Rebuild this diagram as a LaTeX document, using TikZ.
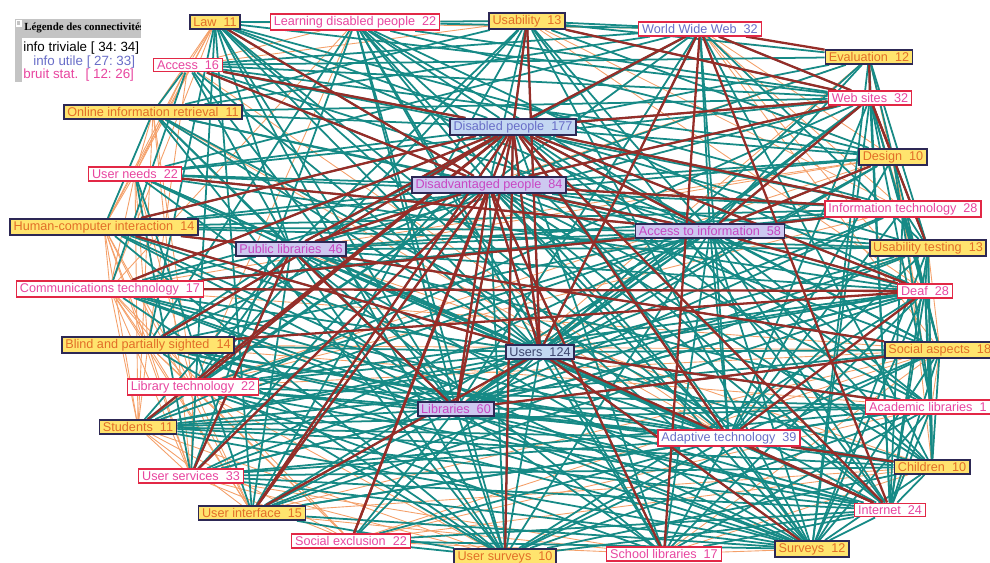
\documentclass[tikz,border=0pt]{standalone}
\usepackage{fontspec}
\setmainfont{Liberation Sans}
\newfontfamily\legfont{Liberation Serif}
\usetikzlibrary{backgrounds}
\tikzset{term/.style={draw,inner xsep=2pt,inner ysep=1.3pt,font=\fontsize{7.2}{8}\selectfont}}
\definecolor{eteal}{RGB}{22,138,134}
\definecolor{ered}{RGB}{150,45,40}
\definecolor{eorange}{RGB}{244,160,105}
\definecolor{kyellow}{RGB}{255,228,110}
\definecolor{knavy}{RGB}{45,40,85}
\definecolor{korange}{RGB}{226,110,40}
\definecolor{kred}{RGB}{226,40,70}
\definecolor{kpink}{RGB}{232,70,160}
\definecolor{kblue}{RGB}{105,110,200}
\definecolor{kpale}{RGB}{195,215,242}
\definecolor{klav}{RGB}{205,200,240}
\definecolor{kpurple}{RGB}{200,70,195}
\definecolor{kslate}{RGB}{60,70,110}
\definecolor{lgray}{RGB}{196,196,196}

\begin{document}
\begin{tikzpicture}[x=0.02cm, y=-0.02cm,
    yterm/.style={term, fill=kyellow, draw=knavy, line width=1pt, text=korange},
    pterm/.style={term, fill=white, draw=kred, line width=0.8pt, text=kpink},
    bterm/.style={pterm, text=kblue},
    hterm/.style={term, fill=kpale, draw=knavy, line width=1pt, text=kblue},
    lterm/.style={term, fill=klav, draw=knavy, line width=1pt, text=kpurple},
    tedge/.style={eteal, line width=1pt},
    redge/.style={ered, line width=1.3pt},
    oedge/.style={eorange, line width=0.5pt},
]
\useasboundingbox (0,0) rectangle (990,562);
\clip (0,0) rectangle (990,562);

% terms
\node[yterm] (law) at (215,22) {Law~~11};
\node[pterm] (ldp) at (355,22) {Learning disabled people~~22};
\node[yterm] (usab) at (527,21) {Usability~~13};
\node[bterm] (www) at (700,29) {World Wide Web~~32};
\node[yterm] (eval) at (869,57) {Evaluation~~12};
\node[pterm] (acc) at (188,65) {Access~~16};
\node[pterm] (web) at (870,98) {Web sites~~32};
\node[yterm] (oir) at (153,112) {Online information retrieval~~11};
\node[hterm] (dis) at (513,127) {Disabled people~~177};
\node[yterm] (design) at (893,157) {Design~~10};
\node[pterm] (uneeds) at (135,174) {User needs~~22};
\node[lterm] (disadv) at (489,185) {Disadvantaged people~~84};
\node[pterm] (it) at (903,209) {Information technology~~28};
\node[yterm] (hci) at (104,227) {Human-computer interaction~~14};
\node[lterm] (a2i) at (710,231) {Access to information~~58};
\node[lterm] (publib) at (291,249) {Public libraries~~46};
\node[yterm] (utest) at (928,248) {Usability testing~~13};
\node[pterm] (comm) at (110,289) {Communications technology~~17};
\node[pterm] (deaf) at (925,291) {Deaf~~28};
\node[yterm] (blind) at (148,345) {Blind and partially sighted~~14};
\node[hterm, text=kslate] (users) at (540,352) {Users~~124};
\node[yterm, anchor=west] (social) at (884,350) {Social aspects~~18};
\node[pterm] (libtech) at (193,387) {Library technology~~22};
\node[lterm] (libs) at (456,409) {Libraries~~60};
\node[pterm, anchor=west] (acad) at (865,407) {Academic libraries~~1\phantom{5}};
\node[yterm] (stud) at (138,427) {Students~~11};
\node[bterm] (adapt) at (729,438) {Adaptive technology~~39};
\node[yterm] (child) at (932,467) {Children~~10};
\node[pterm] (userv) at (191,476) {User services~~33};
\node[pterm] (inet) at (890,510) {Internet~~24};
\node[yterm] (uif) at (252,513) {User interface~~15};
\node[pterm] (sexcl) at (351,541) {Social exclusion~~22};
\node[yterm] (usurv) at (505,557) {User surveys~~10};
\node[pterm] (school) at (664,554) {School libraries~~17};
\node[yterm] (surv) at (812,549) {Surveys~~12};

\begin{pgfonlayer}{background}
% bruit stat.
\foreach \a/\bs in {
    uneeds/{hci,comm,blind,libtech,stud,userv,oir,acc,law},
    hci/{comm,blind,libtech,stud,userv,uif,oir,design,it,utest},
    comm/{blind,libtech,stud,userv,uif,sexcl,social,it,design},
    blind/{libtech,stud,userv,uif,sexcl,deaf,acad,social},
    libtech/{stud,userv,uif,sexcl,usurv,deaf,it,social,design},
    stud/{userv,uif,sexcl,usurv,social,acad,deaf},
    userv/{sexcl,usurv,school},
    uif/{school,surv,social,acad,deaf,child,utest},
    sexcl/{school,inet,child,acad,social},
    usurv/{inet,child,acad},
    school/{surv,inet,child,acad,social},
    surv/{child,acad,social,deaf},
    inet/{child,acad,social,deaf,utest},
    child/{acad,social,deaf,utest,it},
    acad/{social,deaf,utest,it,design},
    social/{deaf,utest,it,design,web},
    deaf/{utest,it,design,web,eval},
    utest/{it,design,web,eval},
    it/{design,web,eval,www},
    design/{web,eval,www,usab},
    web/{eval,usab,ldp},
    eval/{www,usab},
    law/{acc,ldp,oir,usab,www,hci,comm},
    acc/{oir,ldp,usab,blind,hci},
    ldp/{comm,libtech},
    usab/{it,deaf},
    www/{deaf,social},
    oir/{libtech,stud,userv},
    disadv/{eval,www,oir,userv,surv,inet,child,acad},
    users/{law,oir,design,eval,acc,uneeds,comm,blind,ldp},
    libs/{hci,comm,it,eval,web,design,utest,deaf,www},
    publib/{eval,design,it,web,www,child},
    a2i/{law,ldp,oir,hci,uneeds,stud},
    adapt/{hci,uneeds,law,acc,oir,comm,blind,libtech,stud,userv}}
  {\foreach \b in \bs {\draw[oedge] (\a) -- (\b);}}
% info utile
\foreach \a/\bs in {
    law/{dis,disadv,users,a2i,libs,publib,adapt,web,it,uif,surv,ldp,blind,userv,usurv},
    ldp/{dis,disadv,users,a2i,libs,adapt,web,www,inet,design,blind,school,usurv,userv,deaf},
    usab/{dis,disadv,a2i,users,web,eval,www,publib,libtech,inet,surv,ldp,uif,design,oir},
    www/{dis,disadv,users,a2i,web,libs,publib,acc,utest,adapt,uneeds,oir,child},
    eval/{dis,disadv,users,web,a2i,utest,design,inet,surv},
    acc/{dis,disadv,users,a2i,libs,publib,it,design,web,eval,oir,comm},
    web/{dis,disadv,users,a2i,publib,libs,design,utest,deaf,social,acad,adapt,inet,surv,stud,uneeds},
    oir/{dis,disadv,users,a2i,libs,web,publib,hci,inet,usurv},
    dis/{users,a2i,publib,libs,adapt,design,it,utest,deaf,social,acad,child,inet,surv,school,usurv,uif,userv,stud,libtech,blind,comm,hci,uneeds},
    design/{users,a2i,libs,utest,deaf,adapt,acad,hci},
    uneeds/{disadv,users,a2i,publib,libs,adapt,it,deaf,userv,uif},
    disadv/{users,a2i,publib,adapt,it,utest,deaf,social,acad,child,inet,surv,school,usurv,uif,stud,libtech,blind,comm,hci,design},
    it/{users,a2i,publib,libs,adapt,utest,deaf,social,inet,comm,hci},
    hci/{users,a2i,publib,libs,adapt,utest,usurv,surv},
    a2i/{users,publib,libs,adapt,utest,deaf,social,acad,child,inet,surv,school,usurv,uif,userv,stud,libtech,blind,comm},
    publib/{users,libs,adapt,utest,deaf,social,acad,inet,surv,school,usurv,uif,userv,stud,libtech,blind,comm},
    utest/{users,libs,adapt,deaf,acad,child,inet,surv,uif},
    comm/{users,libs,adapt,inet,surv,usurv},
    deaf/{users,libs,social,acad,child,inet,surv,school,usurv,uif,userv,stud,libtech},
    blind/{users,libs,adapt,inet,surv,usurv,child},
    users/{libs,adapt,social,acad,child,inet,surv,school,usurv,uif,userv,stud,libtech,sexcl},
    social/{libs,adapt,child,inet,surv,usurv,stud},
    libtech/{libs,adapt,acad,inet,surv,school},
    libs/{adapt,acad,child,inet,surv,school,usurv,uif,userv,stud,sexcl},
    acad/{adapt,child,inet,surv,school,usurv,uif,userv,stud},
    stud/{adapt,child,inet,surv},
    adapt/{child,inet,surv,school,usurv,uif,userv,sexcl},
    child/{inet,surv,usurv,userv},
    userv/{inet,surv},
    inet/{surv,school,usurv,sexcl},
    uif/{surv,usurv},
    sexcl/{usurv,surv}}
  {\foreach \b in \bs {\draw[tedge] (\a) -- (\b);}}
% info triviale
\foreach \a/\bs in {
    dis/{usab,www,web,deaf,blind,libs,adapt,inet,sexcl,uif,users,a2i,publib,it,acc,hci,stud,comm,usurv,libtech},
    disadv/{libs,users,sexcl,uif,userv,publib,a2i,acc,law,it,web,school},
    users/{usab,www,uif,acad,inet,surv,hci},
    a2i/{web,design,comm,it,deaf,uneeds},
    web/{design,usab,www,eval,utest},
    libs/{publib,social},
    deaf/{adapt,blind,comm},
    adapt/{inet,child},
    publib/{social,userv,hci},
    www/{eval,inet,school}}
  {\foreach \b in \bs {\draw[redge] (\a) -- (\b);}}
\end{pgfonlayer}

% legend
\fill[lgray] (15,19) rectangle (141,82);
\fill[white] (22,38) rectangle (141,82);
\draw[white, line width=0.6pt] (16.5,20.5) rectangle (21,26);
\begin{scope}
\clip (22,19) rectangle (140,37);
\node[anchor=west, inner sep=0pt, font=\legfont\bfseries\fontsize{6.2}{7}\selectfont] (legtitle) at (24,28) {Légende des connectivités};
\end{scope}
\node[anchor=west, inner sep=0pt, font=\fontsize{7.6}{8}\selectfont] (legtriv) at (23,48) {info triviale [ 34:~34]};
\node[anchor=west, inner sep=0pt, font=\fontsize{7.6}{8}\selectfont, text=kblue] (legutil) at (33,62) {info utile [ 27:~33]};
\node[anchor=west, inner sep=0pt, font=\fontsize{7.6}{8}\selectfont, text=kpink] (legbruit) at (23,75) {bruit stat.~~[ 12:~26]};
\end{tikzpicture}
\end{document}
